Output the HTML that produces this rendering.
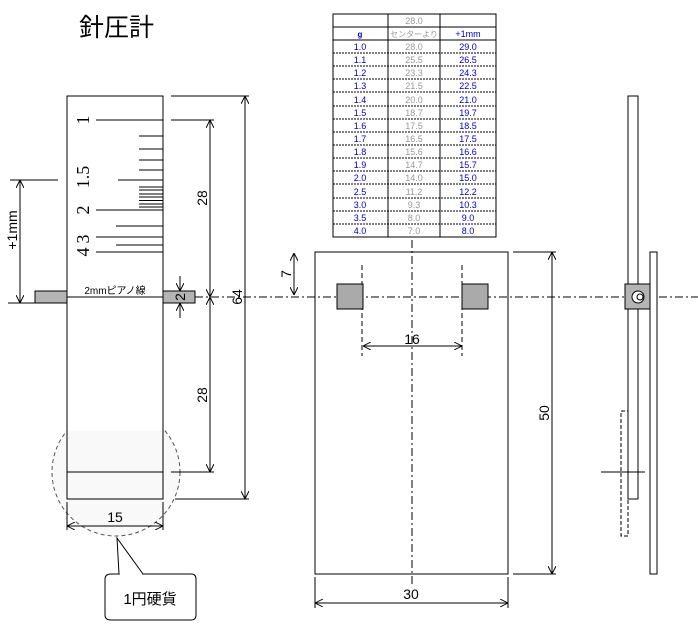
<!DOCTYPE html>
<html><head><meta charset="utf-8"><style>
html,body{margin:0;padding:0;background:#fff;}
svg{display:block;font-family:"Liberation Sans","Noto Sans CJK JP",sans-serif;}
</style></head><body>
<svg width="698" height="641" viewBox="0 0 698 641" xmlns="http://www.w3.org/2000/svg">
<defs>
<marker id="a" viewBox="0 0 10 10" refX="10" refY="5" markerWidth="8" markerHeight="8" orient="auto-start-reverse" markerUnits="userSpaceOnUse"><path d="M0,0 L10,5 L0,10" fill="none" stroke="#000" stroke-width="1.2"/></marker>
</defs>
<text x="79" y="36" font-size="25">針圧計</text>

<!-- left strip -->
<circle cx="116" cy="472" r="64" fill="#f9f9f9" stroke="#555" stroke-dasharray="4,3"/>
<rect x="67" y="96" width="96" height="403" fill="none" stroke="#000"/>
<rect x="67" y="96" width="96" height="335" fill="#fff" stroke="none"/>
<line x1="67" y1="96" x2="163" y2="96" stroke="#000"/>
<line x1="67" y1="96" x2="67" y2="499" stroke="#000"/>
<line x1="163" y1="96" x2="163" y2="499" stroke="#000"/>
<line x1="67" y1="472" x2="163" y2="472" stroke="#000"/>
<rect x="35" y="291" width="32" height="12" fill="#b4b4b4" stroke="#000"/>
<rect x="163" y="291" width="32" height="12" fill="#b4b4b4" stroke="#000"/>
<line x1="67" y1="297" x2="163" y2="297" stroke="#000"/>
<text x="115" y="294" font-size="10" text-anchor="middle">2mmピアノ線</text>
<g stroke="#000">
<line x1="96" y1="120" x2="163" y2="120"/>
<line x1="139" y1="136" x2="163" y2="136"/>
<line x1="139" y1="149" x2="163" y2="149"/>
<line x1="139" y1="160" x2="163" y2="160"/>
<line x1="139" y1="170" x2="163" y2="170"/>
<line x1="118" y1="180" x2="163" y2="180"/>
<line x1="139" y1="187" x2="163" y2="187"/>
<line x1="139" y1="190" x2="163" y2="190"/>
<line x1="139" y1="194" x2="163" y2="194"/>
<line x1="139" y1="197" x2="163" y2="197"/>
<line x1="139" y1="200.5" x2="163" y2="200.5"/>
<line x1="139" y1="204" x2="163" y2="204"/>
<line x1="139" y1="207" x2="163" y2="207"/>
<line x1="96" y1="210" x2="163" y2="210"/>
<line x1="116" y1="226" x2="163" y2="226"/>
<line x1="96" y1="237" x2="163" y2="237"/>
<line x1="116" y1="245" x2="163" y2="245"/>
<line x1="96" y1="252" x2="163" y2="252"/>
</g>
<g font-size="18" font-family="Liberation Serif, serif">
<text transform="translate(89,120) rotate(-90)" text-anchor="middle">1</text>
<text transform="translate(89,177) rotate(-90)" text-anchor="middle">1.5</text>
<text transform="translate(89,210) rotate(-90)" text-anchor="middle">2</text>
<text transform="translate(89,239) rotate(-90)" text-anchor="middle">3</text>
<text transform="translate(89,252) rotate(-90)" text-anchor="middle">4</text>
</g>
<!-- dims left -->
<g stroke="#000" fill="none">
<line x1="171" y1="96" x2="249" y2="96"/>
<line x1="175" y1="499" x2="249" y2="499"/>
<line x1="245" y1="96" x2="245" y2="499" marker-start="url(#a)" marker-end="url(#a)"/>
<line x1="171" y1="120" x2="214" y2="120"/>
<line x1="171" y1="472" x2="214" y2="472"/>
<line x1="210" y1="120" x2="210" y2="297" marker-start="url(#a)" marker-end="url(#a)"/>
<line x1="210" y1="297" x2="210" y2="472" marker-start="url(#a)" marker-end="url(#a)"/>
<line x1="180" y1="276" x2="180" y2="291" marker-end="url(#a)"/>
<line x1="180" y1="318" x2="180" y2="303" marker-end="url(#a)"/>
<line x1="10" y1="180" x2="58" y2="180"/>
<line x1="8" y1="303" x2="35" y2="303"/>
<line x1="20" y1="180" x2="20" y2="303" marker-start="url(#a)" marker-end="url(#a)"/>
<line x1="67" y1="502" x2="67" y2="530"/>
<line x1="163" y1="502" x2="163" y2="530"/>
<line x1="67" y1="526" x2="163" y2="526" marker-start="url(#a)" marker-end="url(#a)"/>
</g>
<g font-size="14">
<text transform="translate(207,198) rotate(-90)" text-anchor="middle">28</text>
<text transform="translate(207,395) rotate(-90)" text-anchor="middle">28</text>
<text transform="translate(242,297) rotate(-90)" text-anchor="middle">64</text>
<text transform="translate(185,297) rotate(-90)" text-anchor="middle">2</text>
<text transform="translate(17,230) rotate(-90)" text-anchor="middle">+1mm</text>
<text x="115" y="522" text-anchor="middle">15</text>
</g>
<!-- callout -->
<path d="M111,574 L191,574 Q196,574 196,579 L196,615 Q196,620 191,620 L111,620 Q105,620 105,615 L105,579 Q105,574 111,574 Z" fill="#fff" stroke="#000"/>
<path d="M119,574 L117,538 L143,574" fill="#fff" stroke="#000"/>
<line x1="120" y1="574" x2="142" y2="574" stroke="#fff" stroke-width="2"/>
<text x="150" y="604" font-size="15" text-anchor="middle">1円硬貨</text>

<!-- centre line -->
<line x1="195" y1="297" x2="698" y2="297" stroke="#000" stroke-dasharray="8,3,2,3"/>

<!-- middle plate -->
<rect x="315" y="252" width="193" height="322" fill="none" stroke="#000"/>
<line x1="412" y1="240" x2="412" y2="585" stroke="#000" stroke-dasharray="8,3,2,3"/>
<line x1="362" y1="265" x2="362" y2="356" stroke="#000" stroke-dasharray="5,3"/>
<line x1="462" y1="265" x2="462" y2="356" stroke="#000" stroke-dasharray="5,3"/>
<rect x="337" y="284" width="26" height="25" fill="#aaa" stroke="#000"/>
<rect x="462" y="284" width="26" height="25" fill="#aaa" stroke="#000"/>
<g stroke="#000" fill="none">
<line x1="363" y1="346" x2="462" y2="346" marker-start="url(#a)" marker-end="url(#a)"/>
<line x1="294" y1="253" x2="294" y2="295" marker-start="url(#a)" marker-end="url(#a)"/>
<line x1="513" y1="252" x2="556" y2="252"/>
<line x1="513" y1="574" x2="556" y2="574"/>
<line x1="552" y1="252" x2="552" y2="574" marker-start="url(#a)" marker-end="url(#a)"/>
<line x1="315" y1="577" x2="315" y2="608"/>
<line x1="508" y1="577" x2="508" y2="608"/>
<line x1="315" y1="603" x2="508" y2="603" marker-start="url(#a)" marker-end="url(#a)"/>
</g>
<g font-size="14">
<text x="412" y="344" text-anchor="middle">16</text>
<text transform="translate(291,274) rotate(-90)" text-anchor="middle">7</text>
<text transform="translate(549,413) rotate(-90)" text-anchor="middle">50</text>
<text x="411" y="599" text-anchor="middle">30</text>
</g>

<!-- right side view -->
<rect x="628" y="96" width="10" height="403" fill="#fff" stroke="#000"/>
<rect x="650" y="252" width="7" height="322" fill="#fff" stroke="#000"/>
<rect x="621" y="411" width="7" height="125" fill="none" stroke="#000" stroke-dasharray="4,2"/>
<line x1="601" y1="472" x2="645" y2="472" stroke="#000"/>
<rect x="625" y="284" width="25" height="25" fill="#b4b4b4" stroke="#000"/>
<circle cx="638" cy="297" r="6" fill="#fff" stroke="#000"/>
<circle cx="640" cy="297" r="3" fill="#fff" stroke="#000"/>

<!-- table -->
<g font-size="9" text-anchor="middle">
<rect x="333" y="14" width="163" height="223" fill="#fff" stroke="#000"/>
<line x1="388" y1="14" x2="388" y2="237" stroke="#000"/>
<line x1="440" y1="14" x2="440" y2="237" stroke="#000"/>
<line x1="333" y1="27" x2="496" y2="27" stroke="#000"/>
<line x1="333" y1="40" x2="496" y2="40" stroke="#000"/>
<text x="414" y="24" fill="#999">28.0</text>
<text x="360" y="37" fill="#00c" font-weight="bold" font-size="8">g</text>
<text x="414" y="37" fill="#999" font-size="8">センターより</text>
<text x="468" y="37" fill="#00c">+1mm</text>
<g stroke="#000" stroke-dasharray="2,1">
<line x1="333" y1="53" x2="496" y2="53"/><line x1="333" y1="66" x2="496" y2="66"/>
<line x1="333" y1="79" x2="496" y2="79"/><line x1="333" y1="92" x2="496" y2="92"/>
<line x1="333" y1="106" x2="496" y2="106"/><line x1="333" y1="119" x2="496" y2="119"/>
<line x1="333" y1="132" x2="496" y2="132"/><line x1="333" y1="145" x2="496" y2="145"/>
<line x1="333" y1="158" x2="496" y2="158"/><line x1="333" y1="171" x2="496" y2="171"/>
<line x1="333" y1="184" x2="496" y2="184"/><line x1="333" y1="198" x2="496" y2="198"/>
<line x1="333" y1="211" x2="496" y2="211"/><line x1="333" y1="224" x2="496" y2="224"/>
</g>
<g fill="#00c">
<text x="360" y="50">1.0</text><text x="360" y="63">1.1</text><text x="360" y="76">1.2</text><text x="360" y="89">1.3</text><text x="360" y="103">1.4</text><text x="360" y="116">1.5</text><text x="360" y="129">1.6</text><text x="360" y="142">1.7</text><text x="360" y="155">1.8</text><text x="360" y="168">1.9</text><text x="360" y="181">2.0</text><text x="360" y="195">2.5</text><text x="360" y="208">3.0</text><text x="360" y="221">3.5</text><text x="360" y="234">4.0</text>
<text x="468" y="50">29.0</text><text x="468" y="63">26.5</text><text x="468" y="76">24.3</text><text x="468" y="89">22.5</text><text x="468" y="103">21.0</text><text x="468" y="116">19.7</text><text x="468" y="129">18.5</text><text x="468" y="142">17.5</text><text x="468" y="155">16.6</text><text x="468" y="168">15.7</text><text x="468" y="181">15.0</text><text x="468" y="195">12.2</text><text x="468" y="208">10.3</text><text x="468" y="221">9.0</text><text x="468" y="234">8.0</text>
</g>
<g fill="#999">
<text x="414" y="50">28.0</text><text x="414" y="63">25.5</text><text x="414" y="76">23.3</text><text x="414" y="89">21.5</text><text x="414" y="103">20.0</text><text x="414" y="116">18.7</text><text x="414" y="129">17.5</text><text x="414" y="142">16.5</text><text x="414" y="155">15.6</text><text x="414" y="168">14.7</text><text x="414" y="181">14.0</text><text x="414" y="195">11.2</text><text x="414" y="208">9.3</text><text x="414" y="221">8.0</text><text x="414" y="234">7.0</text>
</g>
</g>
</svg>
</body></html>
